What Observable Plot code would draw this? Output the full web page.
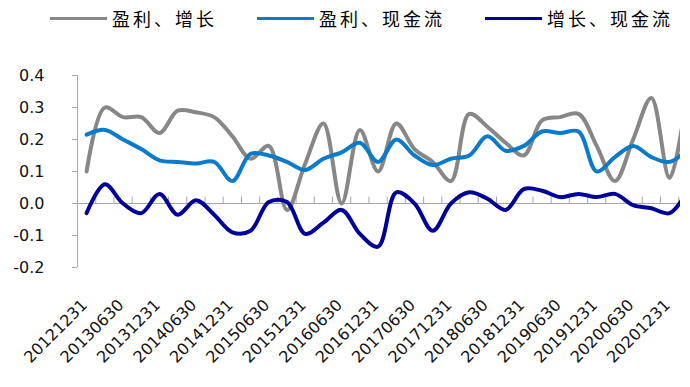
<!DOCTYPE html>
<html>
<head>
<meta charset="utf-8">
<script src="https://cdn.jsdelivr.net/npm/d3@7"></script>
<script src="https://cdn.jsdelivr.net/npm/@observablehq/plot@0.6"></script>
<style>
  html, body { margin: 0; padding: 0; background: white; }
  #legend { position: relative; width: 690px; height: 36px; font-family: "Noto Sans CJK SC", sans-serif; font-size: 18px; color: #000; }
  .item { position: absolute; top: 0; height: 36px; display: flex; align-items: center; white-space: nowrap; letter-spacing: 3px; }
  .swatch { display: inline-block; width: 57px; height: 3px; margin-right: 5px; }
</style>
</head>
<body>
<div id="legend"></div>
<div id="chart"></div>
<script>
const dates = ["20121231","20130331","20130630","20130930","20131231","20140331","20140630","20140930",
  "20141231","20150331","20150630","20150930","20151231","20160331","20160630","20160930",
  "20161231","20170331","20170630","20170930","20171231","20180331","20180630","20180930",
  "20181231","20190331","20190630","20190930","20191231","20200331","20200630","20200930",
  "20201231","20210331"];

const seriesNames = ["盈利、增长", "盈利、现金流", "增长、现金流"];
const seriesColors = ["#878787", "#0a7bcb", "#00009a"];

const profitGrowth = [0.10, 0.30, 0.27, 0.27, 0.22, 0.29, 0.285, 0.27, 0.21, 0.14, 0.18, -0.02,
  0.125, 0.25, 0.0, 0.23, 0.10, 0.25, 0.17, 0.13, 0.07, 0.28, 0.24, 0.19, 0.15, 0.26, 0.27, 0.28,
  0.18, 0.07, 0.20, 0.33, 0.08, 0.36];
const profitCash = [0.215, 0.23, 0.20, 0.17, 0.135, 0.13, 0.125, 0.13, 0.07, 0.155, 0.15, 0.13,
  0.105, 0.14, 0.16, 0.19, 0.13, 0.20, 0.15, 0.12, 0.14, 0.15, 0.21, 0.165, 0.18, 0.225, 0.22, 0.225,
  0.10, 0.145, 0.18, 0.145, 0.13, 0.17];
const growthCash = [-0.03, 0.06, 0.0, -0.03, 0.03, -0.035, 0.01, -0.035, -0.09, -0.085, 0.005, 0.005,
  -0.095, -0.06, -0.02, -0.095, -0.135, 0.035, 0.0, -0.085, 0.0, 0.035, 0.015, -0.02, 0.045, 0.04,
  0.02, 0.03, 0.02, 0.03, -0.005, -0.015, -0.03, 0.04];

const yTicks = [-0.2, -0.1, 0.0, 0.1, 0.2, 0.3, 0.4];

const seriesValues = [profitGrowth, profitCash, growthCash];
const xMax = 32.6;

// legend
const legendLeft = [50, 257, 485];
const legend = document.getElementById("legend");
seriesNames.forEach((name, k) => {
  const it = document.createElement("div");
  it.className = "item";
  it.style.left = legendLeft[k] + "px";
  const sw = document.createElement("span");
  sw.className = "swatch";
  sw.style.background = seriesColors[k];
  it.appendChild(sw);
  const tx = document.createElement("span");
  tx.textContent = name;
  it.appendChild(tx);
  legend.appendChild(it);
});

const rows = [];
seriesValues.forEach((vals, k) => vals.forEach((v, i) => rows.push({i, v, s: seriesNames[k]})));

const labelIdx = dates.map((d, i) => i).filter(i => i % 2 === 0 && i <= 32);
const boundaries = dates.map((d, i) => i + 0.5).filter(b => b <= xMax);

const chart = Plot.plot({
  width: 690,
  height: 351,
  marginLeft: 77,
  marginRight: 10,
  marginTop: 39,
  marginBottom: 120,
  style: { fontFamily: "DejaVu Sans", fontSize: "16px", background: "white", overflow: "visible" },
  x: { type: "linear", domain: [-0.5, xMax], axis: null },
  y: { domain: [-0.2, 0.4], axis: null },
  marks: [
    Plot.ruleX([-0.5], { y1: -0.2, y2: 0.4, stroke: "#a6a6a6", strokeWidth: 1 }),
    Plot.axisY({ ticks: yTicks, tickSize: 5, tickPadding: 28, stroke: "#a6a6a6", fill: "#111",
      tickFormat: d => d.toFixed(1), fontSize: 16, label: null }),
    Plot.ruleY([0], { x1: -0.5, x2: xMax, stroke: "#a6a6a6", strokeWidth: 1.2 }),
    Plot.ruleX(boundaries, { x: d => d, y1: 0, y2: 0.02, stroke: "#a6a6a6", strokeWidth: 1 }),
    Plot.text(labelIdx, { x: d => d, y: -0.2, text: d => dates[d], rotate: -45, textAnchor: "end",
      lineAnchor: "middle", dy: 35, dx: -2, fontSize: 16, fill: "#111" }),
    ...seriesNames.map((name, k) => Plot.line(rows.filter(r => r.s === name), {
      x: "i", y: "v", stroke: seriesColors[k], strokeWidth: 4, curve: "catmull-rom", clip: true
    }))
  ]
});
document.getElementById("chart").appendChild(chart);
</script>
</body>
</html>
